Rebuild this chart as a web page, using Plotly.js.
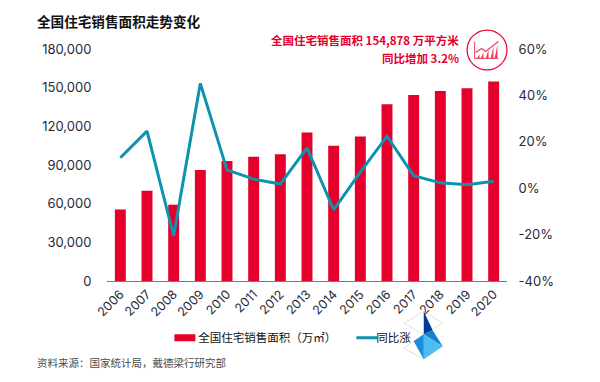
<!DOCTYPE html>
<html><head><meta charset="utf-8">
<script src="https://cdn.plot.ly/plotly-3.0.1.min.js"></script>
<style>html,body{margin:0;padding:0;background:#fff}#c{width:600px;height:382px}</style>
</head><body><div id="c"></div>
<script>
const years=['2006','2007','2008','2009','2010','2011','2012','2013','2014','2015','2016','2017','2018','2019','2020'];
const salesArea=[55500,70100,59200,86100,93100,96400,98300,115300,104900,112200,137100,144300,147400,149500,154878];
const yoyPct=[13.1,24.6,-20.5,45.2,7.9,3.9,1.8,17.4,-9.3,6.9,22.4,5.4,2.3,1.5,3.0];
const leftTicks=[0,30000,60000,90000,120000,150000,180000];
const rightTicks=[-40,-20,0,20,40,60];
const barName='全国住宅销售面积（万㎡）', lineName='同比涨';
const RED='#E4002B', TEAL='#0E93AE', TXT='#1f2a3a';
const W=600,H=382,L=106.5,R=507.5,T=48.5,B=281.5;
const px=x=>(x-L)/(R-L), py=y=>(B-y)/(B-T);
const path=(pts,close=true)=>pts.map((p,i)=>(i?'L':'M')+px(p[0]).toFixed(4)+','+py(p[1]).toFixed(4)).join(' ')+(close?' Z':'');
const poly=(pts,fill)=>({type:'path',xref:'paper',yref:'paper',path:path(pts),fillcolor:fill,line:{width:0},layer:'above'});
const stroke=(pts,c,w)=>({type:'path',xref:'paper',yref:'paper',path:path(pts,false),line:{color:c,width:w},layer:'above'});
const shapes=[
 {type:'circle',xref:'paper',yref:'paper',x0:px(467.5),x1:px(507.5),y0:py(69.5),y1:py(29.5),line:{color:RED,width:1.2},layer:'above'},
 stroke([[475,41],[475,58],[499,58]],'#F0405F',1),
 stroke([[476,52],[482,48],[486,51],[499,41]],'#F0405F',1.2),
 poly([[477,58],[480,54],[480,58]],'#F0405F'),poly([[481,58],[484,52],[484,58]],'#F0405F'),
 poly([[486,58],[489,49],[489,58]],'#F0405F'),poly([[491,58],[494,46],[494,58]],'#F0405F'),poly([[495,58],[498,44],[498,58]],'#F0405F'),
 stroke([[424,312],[404,324],[424,335],[443,324],[424,312]],'#d4d6da',0.7),
 stroke([[424,335],[404,349],[424,360],[443,347],[424,335]],'#d4d6da',0.7),
 poly([[424,312],[433,331],[424,335]],'#003C96'),
 poly([[424,335],[433,331],[443,347]],'#0F86CC'),
 poly([[424,335],[443,347],[424,360]],'#4DBDEF'),
 poly([[424,335],[424,360],[414,342]],'#1A8FD8')
];
const tf={family:'Inter, Lato, sans-serif',size:13,color:TXT};
const cjk='"Noto Sans CJK SC", sans-serif';
const data=[
 {type:'bar',name:barName,x:years,y:salesArea,marker:{color:RED},yaxis:'y',width:0.41},
 {type:'scatter',mode:'lines',name:lineName,x:years,y:yoyPct,yaxis:'y2',line:{color:TEAL,width:3}}
];
const layout={
 width:W,height:H,paper_bgcolor:'#fff',plot_bgcolor:'#fff',showlegend:true,bargap:0.59,
 margin:{l:L,r:W-R,t:T,b:H-B,pad:0},
 xaxis:{type:'category',tickangle:-45,showgrid:false,showline:true,linecolor:'#7a7a7a',linewidth:1.2,ticks:'',tickfont:{family:'Inter, Lato, sans-serif',size:12.5,color:TXT},automargin:false,ticklen:0},
 yaxis:{range:[0,180000],tickmode:'array',tickvals:leftTicks,ticktext:leftTicks.map(v=>v.toLocaleString('en-US')),showgrid:false,zeroline:false,showline:false,tickfont:tf,ticks:'outside',ticklen:12,tickcolor:'rgba(0,0,0,0)',automargin:false},
 yaxis2:{range:[-40,60],overlaying:'y',side:'right',tickmode:'array',tickvals:rightTicks,ticktext:rightTicks.map(v=>v+'%'),showgrid:false,zeroline:false,showline:false,tickfont:tf,ticks:'outside',ticklen:8,tickcolor:'rgba(0,0,0,0)',automargin:false},
 legend:{orientation:'h',xref:'paper',yref:'paper',x:px(158),y:py(324),xanchor:'left',yanchor:'top',font:{family:cjk,size:11.5,color:'#111'},itemwidth:30,entrywidth:133,entrywidthmode:'pixels',tracegroupgap:0,bgcolor:'rgba(0,0,0,0)',itemclick:false},
 shapes,
 annotations:[
  {xref:'paper',yref:'paper',x:px(34),y:py(20.5),xanchor:'left',yanchor:'middle',showarrow:false,text:'<b>全国住宅销售面积走势变化</b>',font:{family:cjk,size:13.6,color:'#111'}},
  {xref:'paper',yref:'paper',x:px(461),y:py(39),xanchor:'right',yanchor:'middle',showarrow:false,text:'<b>全国住宅销售面积 154,878 万平方米</b>',font:{family:cjk,size:11.5,color:RED}},
  {xref:'paper',yref:'paper',x:px(461),y:py(58),xanchor:'right',yanchor:'middle',showarrow:false,text:'<b>同比增加 3.2%</b>',font:{family:cjk,size:11.5,color:RED}},
  {xref:'paper',yref:'paper',x:px(34),y:py(363),xanchor:'left',yanchor:'middle',showarrow:false,text:'资料来源：国家统计局，戴德梁行研究部',font:{family:cjk,size:10.5,color:'#4a4a4a'}}
 ]
};
Plotly.newPlot('c',data,layout,{displayModeBar:false,responsive:false}).then(()=>{
 const bar=document.querySelector('.legend .legendbar, .legend .legendpoints path');
 if(bar) bar.setAttribute('d','M17,3.5H-4V-3.5H17Z');
 const ln=document.querySelector('.legend .legendlines path');
 if(ln) ln.setAttribute('d','M20,0H42');
});
</script></body></html>
